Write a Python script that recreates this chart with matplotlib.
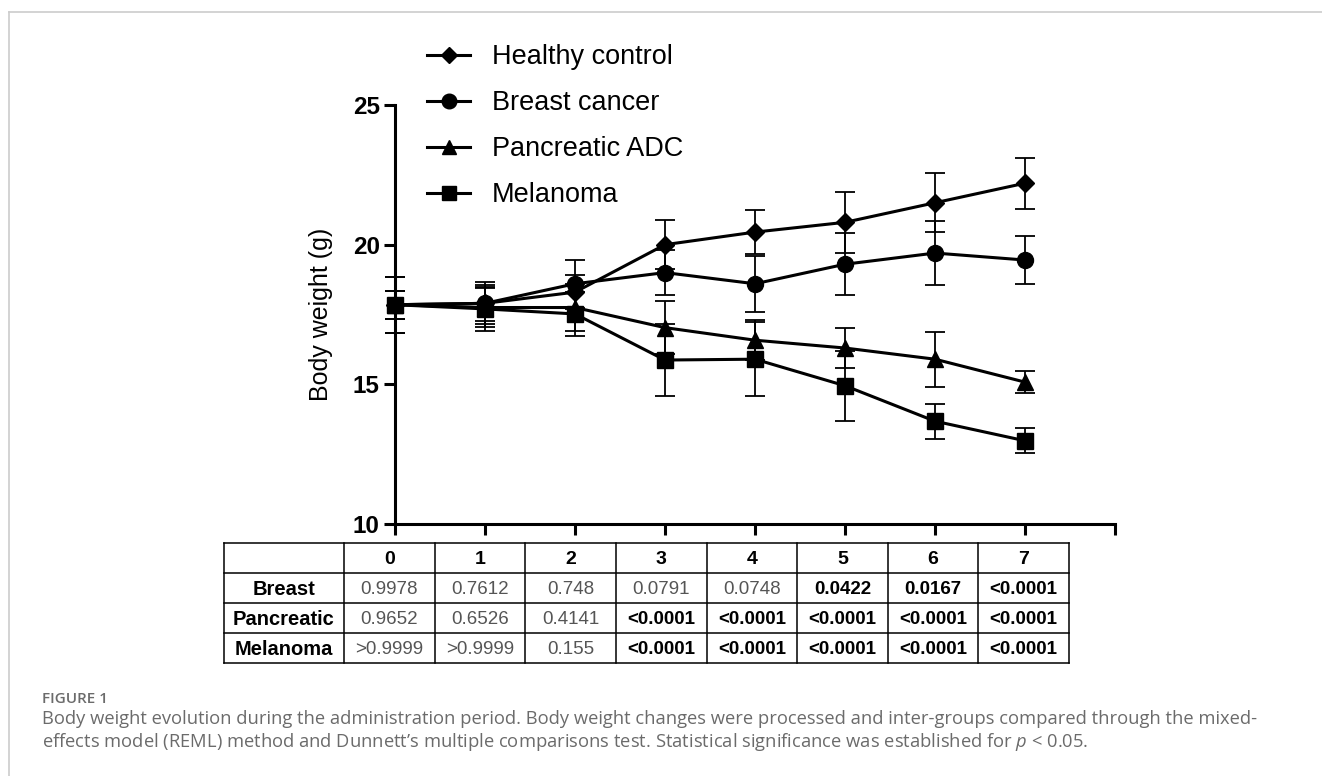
import matplotlib
matplotlib.use("Agg")
import matplotlib.pyplot as plt
from matplotlib.lines import Line2D

plt.rcParams['font.family'] = ['Liberation Sans', 'DejaVu Sans']
plt.rcParams['mathtext.fontset'] = 'custom'
plt.rcParams['mathtext.rm'] = 'Open Sans'
plt.rcParams['mathtext.it'] = 'Open Sans:italic'

# data
days = [0, 1, 2, 3, 4, 5, 6, 7]
healthy = [17.85, 17.9, 18.3, 20.0, 20.45, 20.8, 21.5, 22.2]
healthy_err = [1.0, 0.75, 0.6, 0.88, 0.8, 1.1, 1.05, 0.92]
breast = [17.85, 17.9, 18.6, 19.0, 18.6, 19.3, 19.7, 19.45]
breast_err = [0.5, 0.65, 0.85, 0.8, 1.0, 1.1, 1.15, 0.85]
pancreatic = [17.85, 17.75, 17.75, 17.03, 16.58, 16.3, 15.9, 15.08]
pancreatic_err = [1.0, 0.7, 0.85, 0.95, 0.72, 0.7, 0.98, 0.4]
melanoma = [17.85, 17.7, 17.52, 15.87, 15.9, 14.95, 13.68, 12.98]
melanoma_err = [0.5, 0.8, 0.8, 1.3, 1.32, 1.25, 0.63, 0.45]

series_names = ['Healthy control', 'Breast cancer', 'Pancreatic ADC', 'Melanoma']

# p-values table
table_cols = ['0', '1', '2', '3', '4', '5', '6', '7']
table_rows = ['Breast', 'Pancreatic', 'Melanoma']
p_breast = ['0.9978', '0.7612', '0.748', '0.0791', '0.0748', '0.0422', '0.0167', '<0.0001']
p_pancreatic = ['0.9652', '0.6526', '0.4141', '<0.0001', '<0.0001', '<0.0001', '<0.0001', '<0.0001']
p_melanoma = ['>0.9999', '>0.9999', '0.155', '<0.0001', '<0.0001', '<0.0001', '<0.0001', '<0.0001']
significant_breast = [False, False, False, False, False, True, True, True]
significant_pancreatic = [False, False, False, True, True, True, True, True]
significant_melanoma = [False, False, False, True, True, True, True, True]

W, H = 1322, 776
fig = plt.figure(figsize=(W / 100, H / 100), dpi=100)

# main plot
ax = fig.add_axes([395 / W, 1 - 524 / H, 720 / W, 419 / H])
styles = [('D', 9.5), ('o', 11.5), ('^', 11), ('s', 11)]
all_y = [healthy, breast, pancreatic, melanoma]
all_err = [healthy_err, breast_err, pancreatic_err, melanoma_err]
for y, e, (m, ms) in zip(all_y, all_err, styles):
    ax.errorbar(days, y, yerr=e, marker=m, ms=ms, color='black', lw=2.2,
                capsize=7.5, elinewidth=1.3, capthick=1.3, clip_on=False, zorder=3)

ax.set_xlim(0, 8)
ax.set_ylim(10, 25)
for s in ['top', 'right']:
    ax.spines[s].set_visible(False)
for s in ['left', 'bottom']:
    ax.spines[s].set_linewidth(2.2)
ax.set_yticks([10, 15, 20, 25])
ax.set_xticks(range(0, 9))
ax.set_xticklabels([])
ax.tick_params(axis='y', length=8, width=2.2, pad=3, labelsize=17.5)
ax.tick_params(axis='x', length=8, width=2.2)
for lab in ax.get_yticklabels():
    lab.set_fontweight('bold')
ax.set_ylabel('Body weight (g)', fontsize=18)
ax.yaxis.set_label_coords(-0.086, 0.5)

handles = [Line2D([], [], color='black', lw=2.2, marker=m, ms=ms - 1) for m, ms in styles]
ax.legend(handles, series_names, loc='upper left', bbox_to_anchor=(427 / W, 1 - 44 / H),
          bbox_transform=fig.transFigure, frameon=False, fontsize=19.5,
          handlelength=1.6, handletextpad=0.8, labelspacing=0.74, borderpad=0, borderaxespad=0)

# overlay in pixel coordinates for table, caption and frame
ov = fig.add_axes([0, 0, 1, 1], zorder=-1)
ov.set_xlim(0, W)
ov.set_ylim(H, 0)
ov.axis('off')

ov.plot([9, W], [12, 12], color='#cccccc', lw=1.2)
ov.plot([9, 9], [12, H], color='#cccccc', lw=1.2)

tx0, tx1, first_w = 224, 1069, 120
col_w = (tx1 - tx0 - first_w) / len(table_cols)
ty0, row_h = 543, 30
nrows = len(table_rows) + 1
for i in range(nrows + 1):
    ov.plot([tx0, tx1], [ty0 + i * row_h] * 2, color='black', lw=1.1)
ov.plot([tx0, tx0], [ty0, ty0 + nrows * row_h], color='black', lw=1.1)
for j in range(len(table_cols) + 1):
    x = tx0 + first_w + j * col_w
    ov.plot([x, x], [ty0, ty0 + nrows * row_h], color='black', lw=1.1)

for j, c in enumerate(table_cols):
    ov.text(tx0 + first_w + (j + 0.5) * col_w, ty0 + 0.55 * row_h, c, ha='center', va='center',
            fontsize=14, fontweight='bold')
rows_vals = [p_breast, p_pancreatic, p_melanoma]
rows_sig = [significant_breast, significant_pancreatic, significant_melanoma]
for i, (name, vals, sig) in enumerate(zip(table_rows, rows_vals, rows_sig)):
    yc = ty0 + (i + 1.55) * row_h
    ov.text(tx0 + first_w / 2, yc, name, ha='center', va='center', fontsize=14.5, fontweight='bold')
    for j, (v, s) in enumerate(zip(vals, sig)):
        ov.text(tx0 + first_w + (j + 0.5) * col_w, yc, v, ha='center', va='center', fontsize=13.5,
                fontweight='bold' if s else 'normal', color='black' if s else '#555555')

cap_font = ['Open Sans', 'DejaVu Sans']
ov.text(42, 699, 'FIGURE 1', fontsize=11, fontweight='semibold', color='#6b6b6b',
        family=cap_font, va='center')
ov.text(42, 719, 'Body weight evolution during the administration period. Body weight changes were '
        'processed and inter-groups compared through the mixed-', fontsize=13.2, color='#6b6b6b',
        family=cap_font, va='center')
ov.text(42, 742, "effects model (REML) method and Dunnett\u2019s multiple comparisons test. "
        "Statistical significance was established for $p$ < 0.05.", fontsize=13.2,
        color='#6b6b6b', family=cap_font, va='center')

fig.savefig('out.png', dpi=100)
